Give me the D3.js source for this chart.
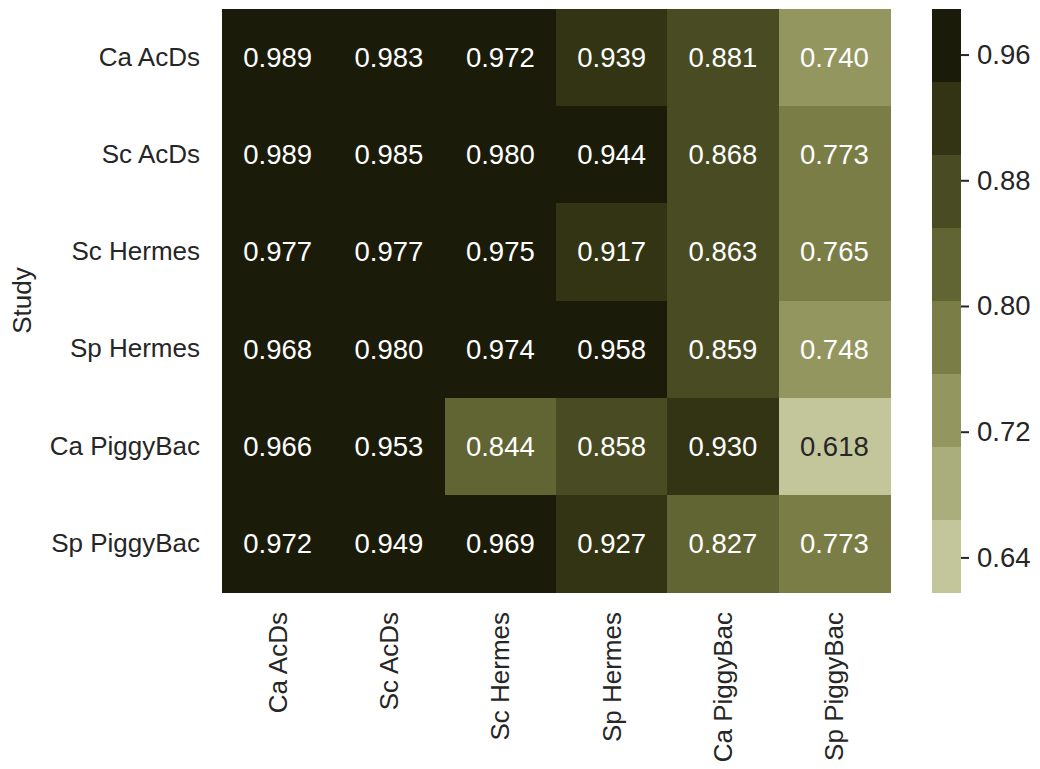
<!DOCTYPE html>
<html>
<head>
<meta charset="utf-8">
<script src="https://cdn.jsdelivr.net/npm/d3@7"></script>
<style>
  html, body { margin: 0; padding: 0; background: #ffffff; }
  svg text { font-family: "Liberation Sans", Arial, sans-serif; }
</style>
</head>
<body>
<svg id="chart" width="1040" height="769"></svg>
<script>
// Study labels (rows, top to bottom) and comparison labels (columns)
const rowLabels = ["Ca AcDs", "Sc AcDs", "Sc Hermes", "Sp Hermes", "Ca PiggyBac", "Sp PiggyBac"];
const colLabels = ["Ca AcDs", "Sc AcDs", "Sc Hermes", "Sp Hermes", "Ca PiggyBac", "Sp PiggyBac"];

// Cell values, one array per row
const rowCaAcDs     = [0.989, 0.983, 0.972, 0.939, 0.881, 0.740];
const rowScAcDs     = [0.989, 0.985, 0.980, 0.944, 0.868, 0.773];
const rowScHermes   = [0.977, 0.977, 0.975, 0.917, 0.863, 0.765];
const rowSpHermes   = [0.968, 0.980, 0.974, 0.958, 0.859, 0.748];
const rowCaPiggyBac = [0.966, 0.953, 0.844, 0.858, 0.930, 0.618];
const rowSpPiggyBac = [0.972, 0.949, 0.969, 0.927, 0.827, 0.773];
const values = [rowCaAcDs, rowScAcDs, rowScHermes, rowSpHermes, rowCaPiggyBac, rowSpPiggyBac];

// Colour bar ticks and the discrete palette (light to dark)
const colorTicks = [0.64, 0.72, 0.80, 0.88, 0.96];
const palette = ["#c3c69b", "#aaad7c", "#93975f", "#7a7e46", "#616533", "#494c22", "#323414", "#1b1b0a"];

const svg = d3.select("#chart");
const textColor = "#262626";
const labelSize = 26;
const annotSize = 27.5;

const hm = { left: 222, right: 890, top: 9, bottom: 592 };

const x = d3.scaleBand().domain(colLabels.map((d, i) => i)).range([hm.left, hm.right]);
const y = d3.scaleBand().domain(rowLabels.map((d, i) => i)).range([hm.top, hm.bottom]);

const flat = values.flat();
const vmin = d3.min(flat), vmax = d3.max(flat);
const color = d3.scaleQuantize().domain([vmin, vmax]).range(palette);

const cells = [];
values.forEach((row, r) => row.forEach((v, c) => cells.push({ r, c, v })));

// Heatmap cells
svg.append("g").attr("shape-rendering", "crispEdges")
  .selectAll("rect").data(cells).join("rect")
  .attr("x", d => x(d.c))
  .attr("y", d => y(d.r))
  .attr("width", x.bandwidth() + 0.6)
  .attr("height", y.bandwidth() + 0.6)
  .attr("fill", d => color(d.v));

// Annotations
svg.append("g").selectAll("text").data(cells).join("text")
  .attr("x", d => x(d.c) + x.bandwidth() / 2)
  .attr("y", d => y(d.r) + y.bandwidth() / 2)
  .attr("text-anchor", "middle")
  .attr("dominant-baseline", "central")
  .attr("font-size", annotSize)
  .attr("fill", d => palette.indexOf(color(d.v)) < 1 ? textColor : "#ffffff")
  .text(d => d.v.toFixed(3));

// Row axis (left)
const yAxis = d3.axisLeft(y).tickSize(0).tickPadding(22).tickFormat(i => rowLabels[i]);
const gy = svg.append("g").attr("transform", `translate(${hm.left},0)`).call(yAxis);
gy.select(".domain").remove();
gy.selectAll("text").attr("font-size", labelSize).attr("fill", textColor)
  .attr("font-family", "Liberation Sans, Arial, sans-serif");

// Column axis (bottom), labels rotated
const xAxis = d3.axisBottom(x).tickSize(0).tickPadding(0).tickFormat(i => colLabels[i]);
const gx = svg.append("g").attr("transform", `translate(0,${hm.bottom})`).call(xAxis);
gx.select(".domain").remove();
gx.selectAll("text")
  .attr("font-size", labelSize).attr("fill", textColor)
  .attr("font-family", "Liberation Sans, Arial, sans-serif")
  .attr("transform", "rotate(-90)")
  .attr("text-anchor", "end")
  .attr("dy", "0.35em")
  .attr("x", -20)
  .attr("y", 0);

// Row axis title
svg.append("text")
  .attr("transform", `translate(31,${(hm.top + hm.bottom) / 2}) rotate(-90)`)
  .attr("text-anchor", "middle")
  .attr("font-size", labelSize)
  .attr("fill", textColor)
  .text("Study");

// Colour bar
const cb = { left: 932, width: 29, top: hm.top, bottom: hm.bottom };
const cy = d3.scaleLinear().domain([vmin, vmax]).range([cb.bottom, cb.top]);
const binEdges = d3.range(palette.length + 1).map(k => vmin + (vmax - vmin) * k / palette.length);
svg.append("g").attr("shape-rendering", "crispEdges")
  .selectAll("rect").data(palette).join("rect")
  .attr("x", cb.left)
  .attr("y", (d, i) => cy(binEdges[i + 1]))
  .attr("width", cb.width)
  .attr("height", (d, i) => cy(binEdges[i]) - cy(binEdges[i + 1]) + 0.6)
  .attr("fill", d => d);

const cAxis = d3.axisRight(cy).tickValues(colorTicks).tickSize(8).tickPadding(8)
  .tickFormat(d3.format(".2f"));
const gc = svg.append("g").attr("transform", `translate(${cb.left + cb.width},0)`).call(cAxis);
gc.select(".domain").remove();
gc.selectAll("line").attr("stroke", textColor).attr("stroke-width", 2);
gc.selectAll("text").attr("font-size", annotSize).attr("fill", textColor)
  .attr("font-family", "Liberation Sans, Arial, sans-serif");
</script>
</body>
</html>
